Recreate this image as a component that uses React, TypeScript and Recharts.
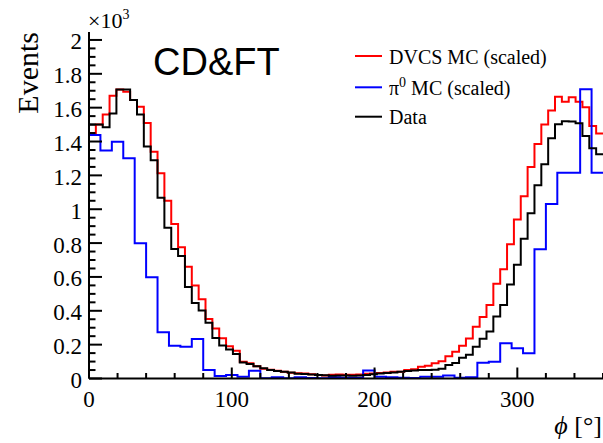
import React from 'react';
import { LineChart, Line, XAxis, YAxis } from 'recharts';

const PHI_MIN = 0;
const PHI_MAX = 360;

// DVCS MC (scaled), 75 bins of 4.8 deg
const dvcsCounts = [
  1450, 1500, 1560, 1670, 1708, 1694, 1645, 1605, 1510, 1340,
  1212, 1050, 913, 775, 660, 550, 468, 351, 296, 238,
  190, 164, 99, 90, 72, 58, 52, 46, 40, 34,
  31, 30, 25, 20, 18, 22, 24, 22, 22, 24,
  28, 30, 32, 35, 40, 40, 50, 55, 70, 76,
  90, 102, 131, 158, 193, 237, 306, 363, 434, 560,
  646, 793, 940, 1076, 1249, 1386, 1500, 1583, 1665, 1635,
  1661, 1635, 1602, 1491, 1448,
];

// Data, 75 bins of 4.8 deg
const dataCounts = [
  1500, 1500, 1485, 1565, 1708, 1708, 1645, 1560, 1370, 1290,
  1068, 890, 765, 724, 540, 446, 402, 330, 240, 195,
  172, 145, 95, 86, 72, 60, 50, 44, 40, 35,
  28, 27, 24, 20, 19, 16, 18, 18, 16, 18,
  20, 25, 30, 32, 35, 40, 45, 48, 50, 50,
  52, 58, 80, 92, 122, 140, 188, 235, 278, 367,
  434, 556, 672, 825, 976, 1142, 1265, 1420, 1502, 1520,
  1518, 1508, 1432, 1360, 1325,
];

// pi0 MC (scaled), 45 bins of 8 deg
const pi0Counts = [
  1438, 1347, 1399, 1301, 799, 598, 273, 194, 188, 233,
  50, 15, 20, 10, 46, 2, 7, 1, 8, 3,
  1, 7, 4, 5, 48, 10, 8, 5, 3, 10,
  10, 18, 5, 7, 93, 99, 208, 178, 149, 763,
  1031, 1216, 1216, 1709, 1216,
];

const xTicks = [0, 20, 40, 60, 80, 100, 120, 140, 160, 180, 200, 220, 240, 260, 280, 300, 320, 340, 360];
const xLabelTicks = [0, 100, 200, 300];
const yTicks = Array.from({ length: 41 }, (_, i) => i * 50);
const yLabelTicks = [0, 200, 400, 600, 800, 1000, 1200, 1400, 1600, 1800, 2000];

const legendItems = [
  { name: 'DVCS MC (scaled)', color: '#ff0000' },
  { name: 'pi0', color: '#0000ff' },
  { name: 'Data', color: '#000000' },
];

function toSteps(counts: number[]) {
  const w = (PHI_MAX - PHI_MIN) / counts.length;
  const pts = counts.map((c, i) => ({ x: PHI_MIN + i * w, y: c }));
  pts.push({ x: PHI_MAX, y: counts[counts.length - 1] });
  return pts;
}

const SERIF = '"Liberation Serif", "Times New Roman", Times, serif';
const SANS = '"Liberation Sans", Arial, Helvetica, sans-serif';

const XBottomTick = (props: any) => {
  const { x, y, payload } = props;
  const v = payload.value;
  const major = v % 100 === 0;
  return (
    <g>
      <line x1={x} x2={x} y1={y} y2={y - (major ? 11 : 5.5)} stroke="#000" strokeWidth={2} />
      {xLabelTicks.includes(v) ? (
        <text x={x} y={y + 28} textAnchor="middle" fontFamily={SERIF} fontSize={23} fill="#000">
          {v}
        </text>
      ) : null}
    </g>
  );
};

const XTopTick = (props: any) => {
  const { x, y, payload } = props;
  const major = payload.value % 100 === 0;
  return <line x1={x} x2={x} y1={y} y2={y + (major ? 11 : 5.5)} stroke="#000" strokeWidth={2} />;
};

const YLeftTick = (props: any) => {
  const { x, y, payload } = props;
  const v = payload.value;
  const major = v % 200 === 0;
  return (
    <g>
      <line x1={x} x2={x + (major ? 13 : 6.5)} y1={y} y2={y} stroke="#000" strokeWidth={2} />
      {yLabelTicks.includes(v) ? (
        <text x={x - 7} y={y + 9.5} textAnchor="end" fontFamily={SERIF} fontSize={23} fill="#000">
          {String(v / 1000)}
        </text>
      ) : null}
    </g>
  );
};

const YRightTick = (props: any) => {
  const { x, y, payload } = props;
  const major = payload.value % 200 === 0;
  return <line x1={x} x2={x - (major ? 13 : 6.5)} y1={y} y2={y} stroke="#000" strokeWidth={2} />;
};

export default function App() {
  const axisLine = { stroke: '#000', strokeWidth: 2 };
  return (
    <div style={{ position: 'absolute', left: 0, top: 0, width: 603, height: 443, background: '#fff' }}>
      <LineChart width={603} height={443} margin={{ top: 32, right: 0, bottom: 0, left: 0 }}>
        <XAxis
          xAxisId="b"
          type="number"
          dataKey="x"
          domain={[PHI_MIN, PHI_MAX]}
          ticks={xTicks}
          interval={0}
          tickSize={0}
          tickMargin={0}
          tickLine={false}
          height={64.5}
          axisLine={axisLine}
          tick={<XBottomTick />}
          allowDataOverflow
        />
        <XAxis
          xAxisId="t"
          orientation="top"
          type="number"
          dataKey="x"
          domain={[PHI_MIN, PHI_MAX]}
          ticks={xTicks}
          interval={0}
          tickSize={0}
          tickMargin={0}
          tickLine={false}
          height={0}
          axisLine={axisLine}
          tick={<XTopTick />}
          allowDataOverflow
        />
        <YAxis
          yAxisId="l"
          type="number"
          domain={[0, 2047]}
          ticks={yTicks}
          interval={0}
          tickSize={0}
          tickMargin={0}
          tickLine={false}
          width={89}
          axisLine={axisLine}
          tick={<YLeftTick />}
          allowDataOverflow
        />
        <YAxis
          yAxisId="r"
          orientation="right"
          type="number"
          domain={[0, 2047]}
          ticks={yTicks}
          interval={0}
          tickSize={0}
          tickMargin={0}
          tickLine={false}
          width={0}
          axisLine={axisLine}
          tick={<YRightTick />}
          allowDataOverflow
        />
        <Line
          xAxisId="b"
          yAxisId="l"
          data={toSteps(dvcsCounts)}
          dataKey="y"
          type="stepAfter"
          stroke={legendItems[0].color}
          strokeWidth={2}
          dot={false}
          isAnimationActive={false}
        />
        <Line
          xAxisId="b"
          yAxisId="l"
          data={toSteps(pi0Counts)}
          dataKey="y"
          type="stepAfter"
          stroke={legendItems[1].color}
          strokeWidth={2}
          dot={false}
          isAnimationActive={false}
        />
        <Line
          xAxisId="b"
          yAxisId="l"
          data={toSteps(dataCounts)}
          dataKey="y"
          type="stepAfter"
          stroke={legendItems[2].color}
          strokeWidth={2}
          dot={false}
          isAnimationActive={false}
        />
      </LineChart>
      <svg
        width={603}
        height={443}
        style={{ position: 'absolute', left: 0, top: 0, pointerEvents: 'none' }}
      >
        <text x={88} y={28} fontFamily={SERIF} fontSize={22} fill="#000">
          ×10
          <tspan fontSize={14} dy={-9}>3</tspan>
        </text>
        <text
          x={38}
          y={32}
          transform="rotate(-90 38 32)"
          textAnchor="end"
          fontFamily={SERIF}
          fontSize={30}
          fill="#000"
        >
          Events
        </text>
        <text x={153} y={75} fontFamily={SANS} fontSize={38} fill="#000">
          CD&amp;FT
        </text>
        <line x1={355} x2={382} y1={56} y2={56} stroke={legendItems[0].color} strokeWidth={2} />
        <text x={389} y={63.5} fontFamily={SERIF} fontSize={20} fill="#000">
          DVCS MC (scaled)
        </text>
        <line x1={355} x2={382} y1={87.3} y2={87.3} stroke={legendItems[1].color} strokeWidth={2} />
        <text x={389} y={94.5} fontFamily={SERIF} fontSize={20} fill="#000">
          π<tspan fontSize={14} dy={-8}>0</tspan>
          <tspan dy={8}> MC (scaled)</tspan>
        </text>
        <line x1={355} x2={382} y1={116.7} y2={116.7} stroke={legendItems[2].color} strokeWidth={2} />
        <text x={389} y={124} fontFamily={SERIF} fontSize={20} fill="#000">
          Data
        </text>
        <text x={602} y={433.5} textAnchor="end" fontFamily={SERIF} fontSize={26} fill="#000">
          <tspan fontStyle="italic">ϕ</tspan> [°]
        </text>
      </svg>
    </div>
  );
}
